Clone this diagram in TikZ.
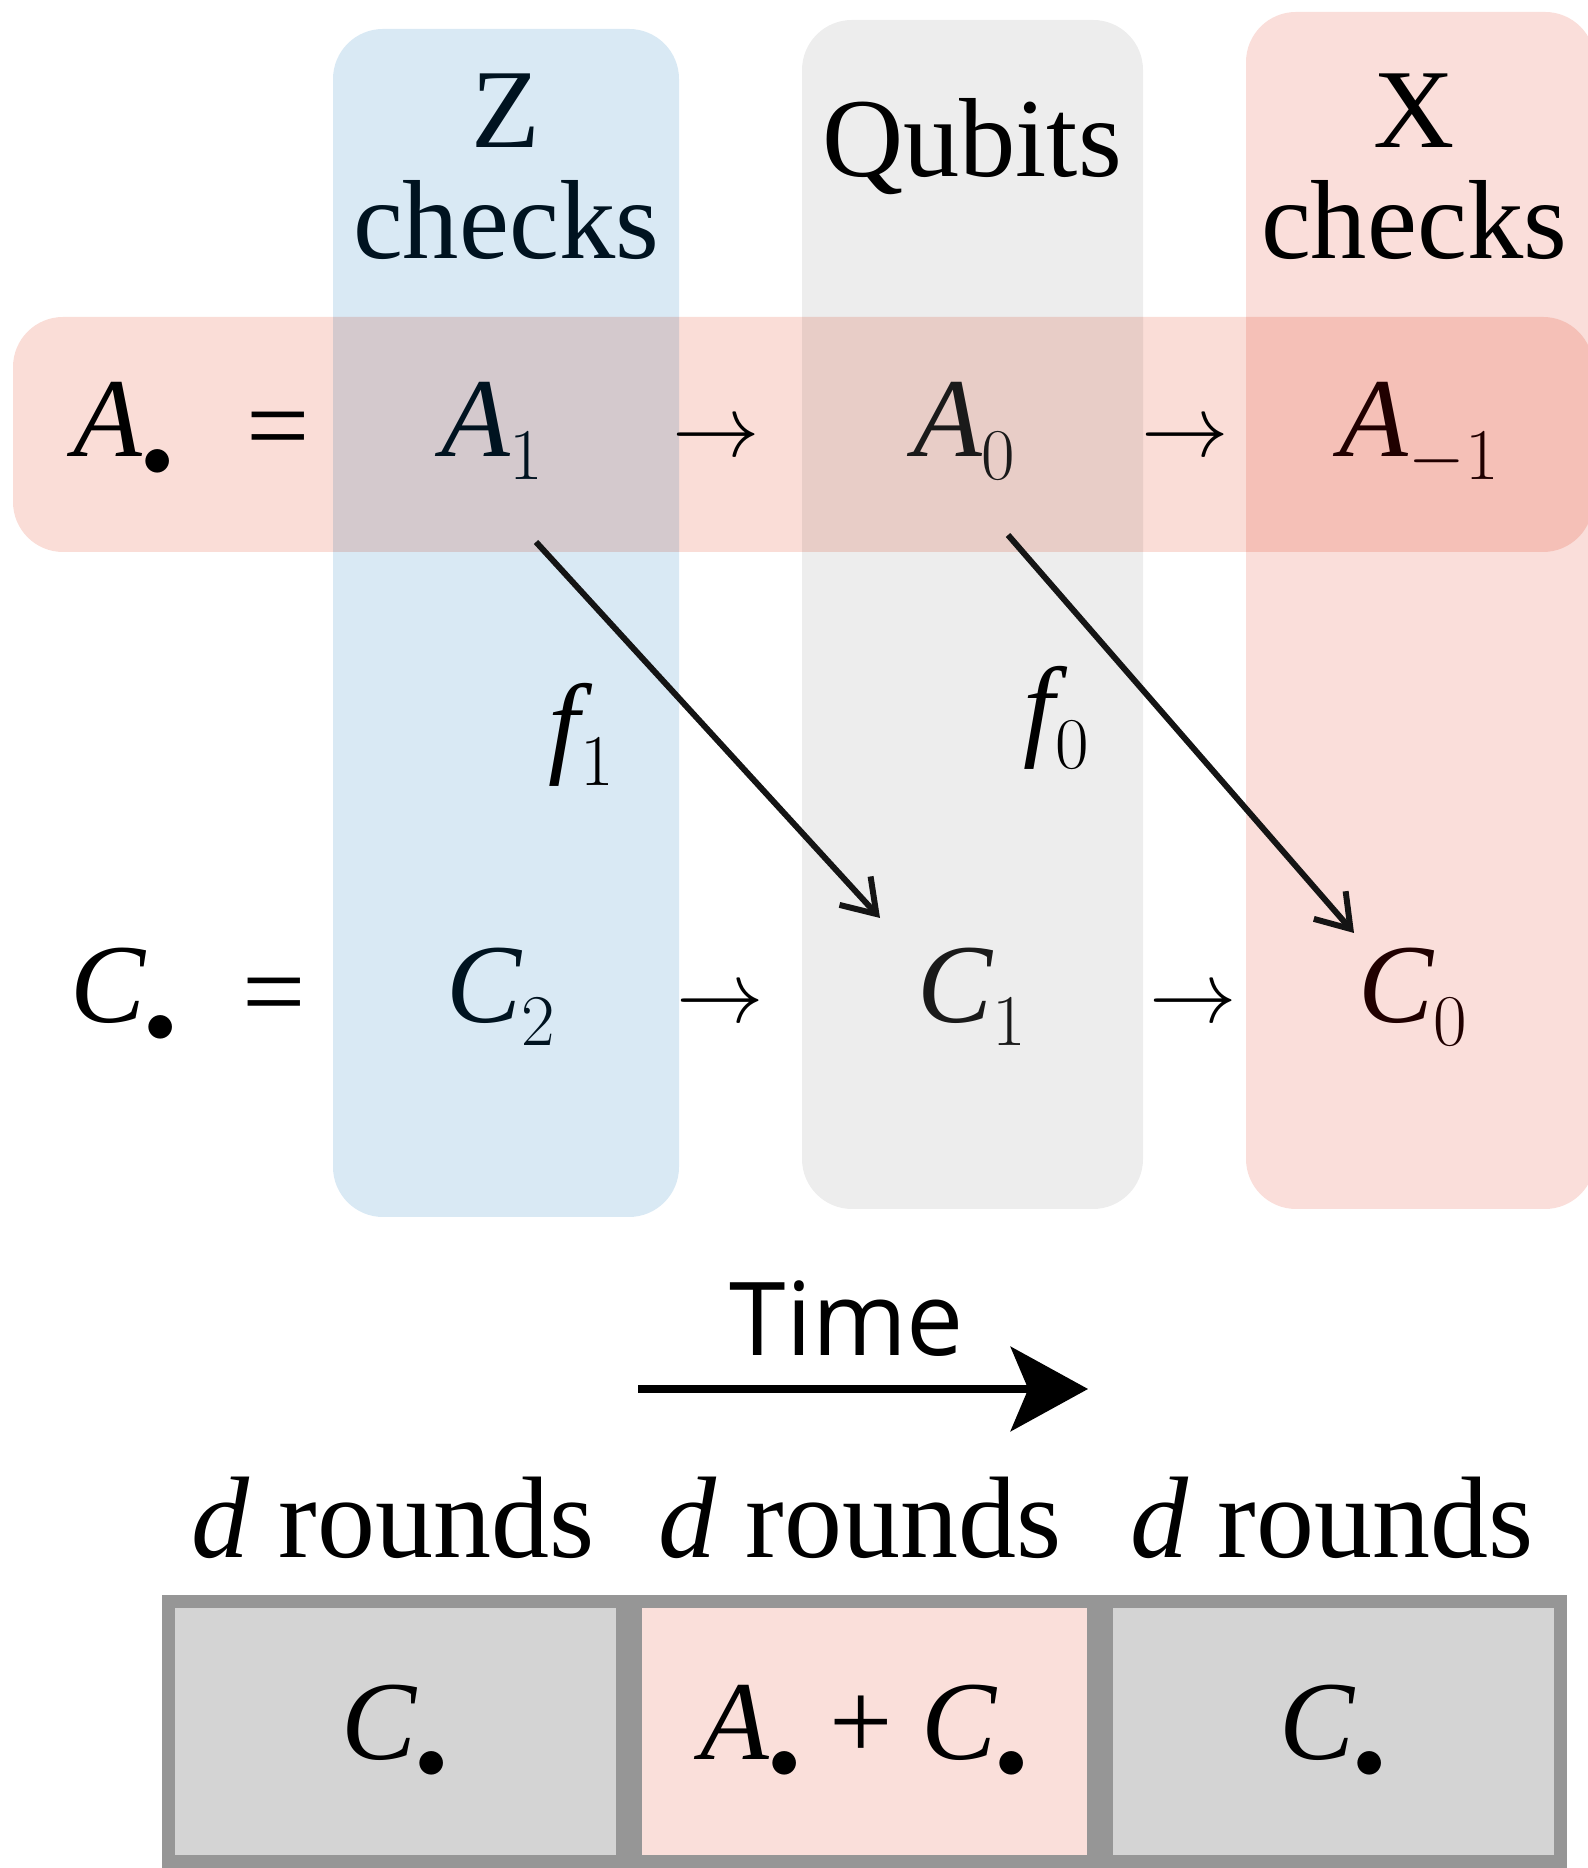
\documentclass[tikz,border=0pt]{standalone}
\usepackage{fontspec}
\setmainfont{Liberation Serif}
\newfontfamily\timefont{Open Sans}
\usepackage{tikz}
\usetikzlibrary{positioning, arrows.meta}

\definecolor{zcol}{RGB}{217,233,244}
\definecolor{qcol}{RGB}{237,237,237}
\definecolor{xcol}{RGB}{250,222,218}
\definecolor{rowcol}{RGB}{250,221,215}
\definecolor{boxgray}{RGB}{212,212,212}
\definecolor{boxedge}{RGB}{150,150,150}
\definecolor{boxpink}{RGB}{250,223,218}
\definecolor{zink}{RGB}{0,19,32}
\definecolor{qink}{RGB}{26,26,26}
\definecolor{xink}{RGB}{32,0,0}

\newcommand{\cxA}{\mathit{A}}
\newcommand{\cxC}{\mathit{C}}
\newcommand{\cxf}{\mathit{f}}
\newcommand{\lowsub}[1]{_{\raisebox{-2.6pt}{$\scriptstyle #1$}}}
\newcommand{\dotsub}{_{\raisebox{-1.8pt}{$\scriptscriptstyle\bullet$}}}

\begin{document}
\begin{tikzpicture}[
    every node/.style={inner sep=0pt, font=\fontsize{32}{31.6}\selectfont},
    band/.style={rounded corners=0.5cm},
    entry/.style={anchor=base},
    maparrow/.style={line width=1.7pt, draw=black!92, -{Straight Barb[length=9pt, width=12pt, line width=1.7pt]}},
    roundbox/.style={draw=boxedge, line width=3.7pt, fill=boxgray, minimum width=4.54cm, minimum height=2.6cm},
    node distance=0pt
]
\useasboundingbox (0,0) rectangle (15.88,18.68);

\fill[band, zcol] (3.33,6.51) rectangle (6.79,18.39);
\fill[band, qcol] (8.02,6.59) rectangle (11.43,18.48);
\fill[band, xcol] (12.46,6.59) rectangle (15.95,18.56);
\begin{scope}[blend mode=multiply]
\fill[band, rowcol] (0.13,13.16) rectangle (15.93,15.51);
\end{scope}

\node[align=center, anchor=south, text=zink] (zlab) at (5.06,16.08) {Z\\checks};
\node[entry] (qlab) at (9.72,16.91) {Qubits};
\node[align=center, anchor=south] (xlab) at (14.14,16.08) {X\\checks};

\node[entry] (Adot) at (1.24,14.11) {$\cxA\dotsub$};
\node[entry] (Aeq) at (2.78,14.04) {=};
\node[entry, text=zink] (A1) at (4.93,14.11) {$\cxA\lowsub{1}$};
\node[entry] (A10) at (7.16,14.11) {$\rightarrow$};
\node[entry, text=qink] (A0) at (9.65,14.11) {$\cxA\lowsub{0}$};
\node[entry] (A0m) at (11.85,14.11) {$\rightarrow$};
\node[entry, text=xink] (Am1) at (14.20,14.11) {$\cxA\lowsub{-1}$};

\node[entry] (f1) at (5.82,11.05) {$\cxf\lowsub{1}$};
\node[entry] (f0) at (10.57,11.22) {$\cxf\lowsub{0}$};

\node[entry] (Cdot) at (1.24,8.45) {$\cxC\dotsub$};
\node[entry] (Ceq) at (2.74,8.38) {=};
\node[entry, text=zink] (C2) at (5.02,8.45) {$\cxC\lowsub{2}$};
\node[entry] (C21) at (7.20,8.45) {$\rightarrow$};
\node[entry, text=qink] (C1) at (9.73,8.45) {$\cxC\lowsub{1}$};
\node[entry] (C10) at (11.93,8.45) {$\rightarrow$};
\node[entry, text=xink] (C0) at (14.14,8.45) {$\cxC\lowsub{0}$};

\draw[maparrow] ([shift={(0.43,-0.85)}]A1.base) -- ([shift={(-0.93,1.05)}]C1.base);
\draw[maparrow] ([shift={(0.43,-0.78)}]A0.base) -- ([shift={(-0.60,0.90)}]C0.base);

\node[entry, font=\timefont\fontsize{29}{29}\selectfont] (time) at (8.47,5.12) {Time};
\coordinate (tstart) at (6.38,4.79);
\coordinate (tend) at (10.88,4.79);
\draw[line width=2.2pt, -{Stealth[length=22pt, width=24pt, inset=5pt]}] (tstart) -- (tend);

\node[roundbox] (b1) at (3.955,1.365) {$\cxC\dotsub$};
\node[roundbox, fill=boxpink, minimum width=4.58cm, right=of b1] (b2) {$\cxA\dotsub$ + $\cxC\dotsub$};
\node[roundbox, right=of b2] (b3) {$\cxC\dotsub$};

\node[entry, font=\fontsize{33}{33}\selectfont] (r1) at (3.93,3.10) {$\mathit{d}$ rounds};
\node[entry, font=\fontsize{33}{33}\selectfont] (r2) at (8.60,3.10) {$\mathit{d}$ rounds};
\node[entry, font=\fontsize{33}{33}\selectfont] (r3) at (13.32,3.10) {$\mathit{d}$ rounds};
\end{tikzpicture}
\end{document}
